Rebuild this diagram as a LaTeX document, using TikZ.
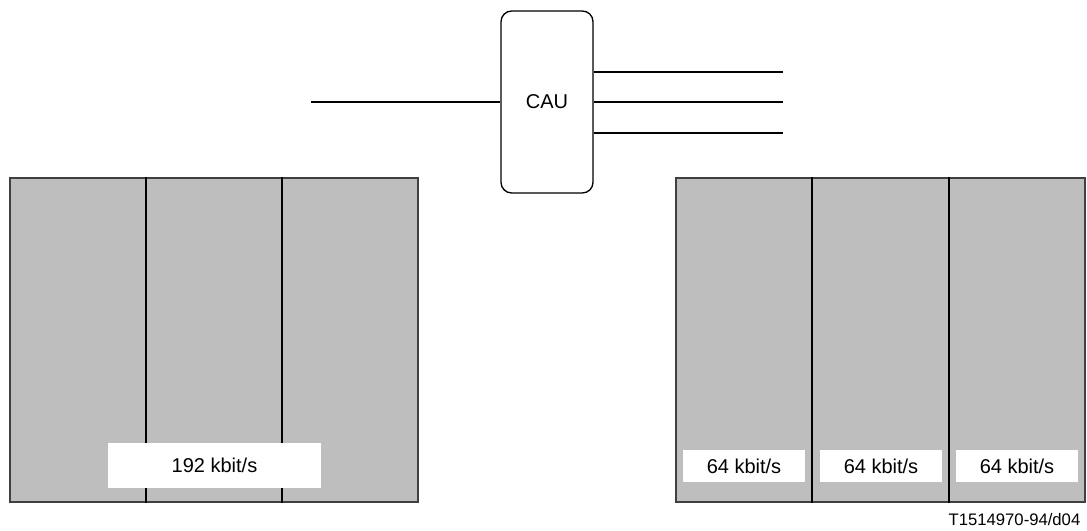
\documentclass[tikz,border=0pt]{standalone}
\usepackage{fontspec}
\setmainfont{Liberation Sans}
\usetikzlibrary{positioning,calc}
\definecolor{framegray}{HTML}{BEBEBE}
\definecolor{edgegray}{HTML}{404040}

\begin{document}
\begin{tikzpicture}[
    x=0.75pt,y=-0.75pt,
    frm/.style  = {rectangle,draw=edgegray,fill=framegray,line width=0.8pt,inner sep=0pt,
                   minimum height=243pt},
    rate/.style = {rectangle,fill=white,inner sep=0pt,font=\fontsize{15}{18}\selectfont},
    cau/.style  = {rectangle,rounded corners=8pt,draw,line width=1pt,
                   minimum width=69pt,minimum height=136.5pt,font=\fontsize{15}{18}\selectfont},
    wire/.style = {line width=1.5pt},
    sep/.style  = {line width=1.5pt},
    tag/.style  = {font=\fontsize{12.5}{15}\selectfont},
  ]
  \useasboundingbox (0,0) rectangle (1087,531);

  % Unite de conference
  \node[cau] (unit) at (547,102) {CAU};
  \coordinate (in)   at (311,102);
  \coordinate (out1) at (783,72);
  \coordinate (out2) at (783,102);
  \coordinate (out3) at (783,133);
  \draw[wire] (in) -- (unit.west);
  \draw[wire] (unit.east |- out1) -- (out1);
  \draw[wire] (unit.east |- out2) -- (out2);
  \draw[wire] (unit.east |- out3) -- (out3);

  % Trame a 192 kbit/s
  \node[frm,minimum width=306pt] (wide) at (214,340) {};
  \draw[sep] ($(wide.north west)!1/3!(wide.north east)$) -- ($(wide.south west)!1/3!(wide.south east)$);
  \draw[sep] ($(wide.north west)!2/3!(wide.north east)$) -- ($(wide.south west)!2/3!(wide.south east)$);
  \node[rate,minimum width=159.75pt,minimum height=33.75pt] (wrate) at (214.5,465.5) {192 kbit/s};

  % Trois canaux a 64 kbit/s
  \node[frm,minimum width=306.75pt] (split) at (880.5,340) {};
  \draw[sep] ($(split.north west)!1/3!(split.north east)$) -- ($(split.south west)!1/3!(split.south east)$);
  \draw[sep] ($(split.north west)!2/3!(split.north east)$) -- ($(split.south west)!2/3!(split.south east)$);
  \foreach \i/\x in {1/744,2/881,3/1017}
    \node[rate,minimum width=91.5pt,minimum height=24pt] (srate\i) at (\x,466) {64 kbit/s};

  \node[tag,anchor=base east] (ref) at (1085,525) {T1514970-94/d04};

\end{tikzpicture}
\end{document}
